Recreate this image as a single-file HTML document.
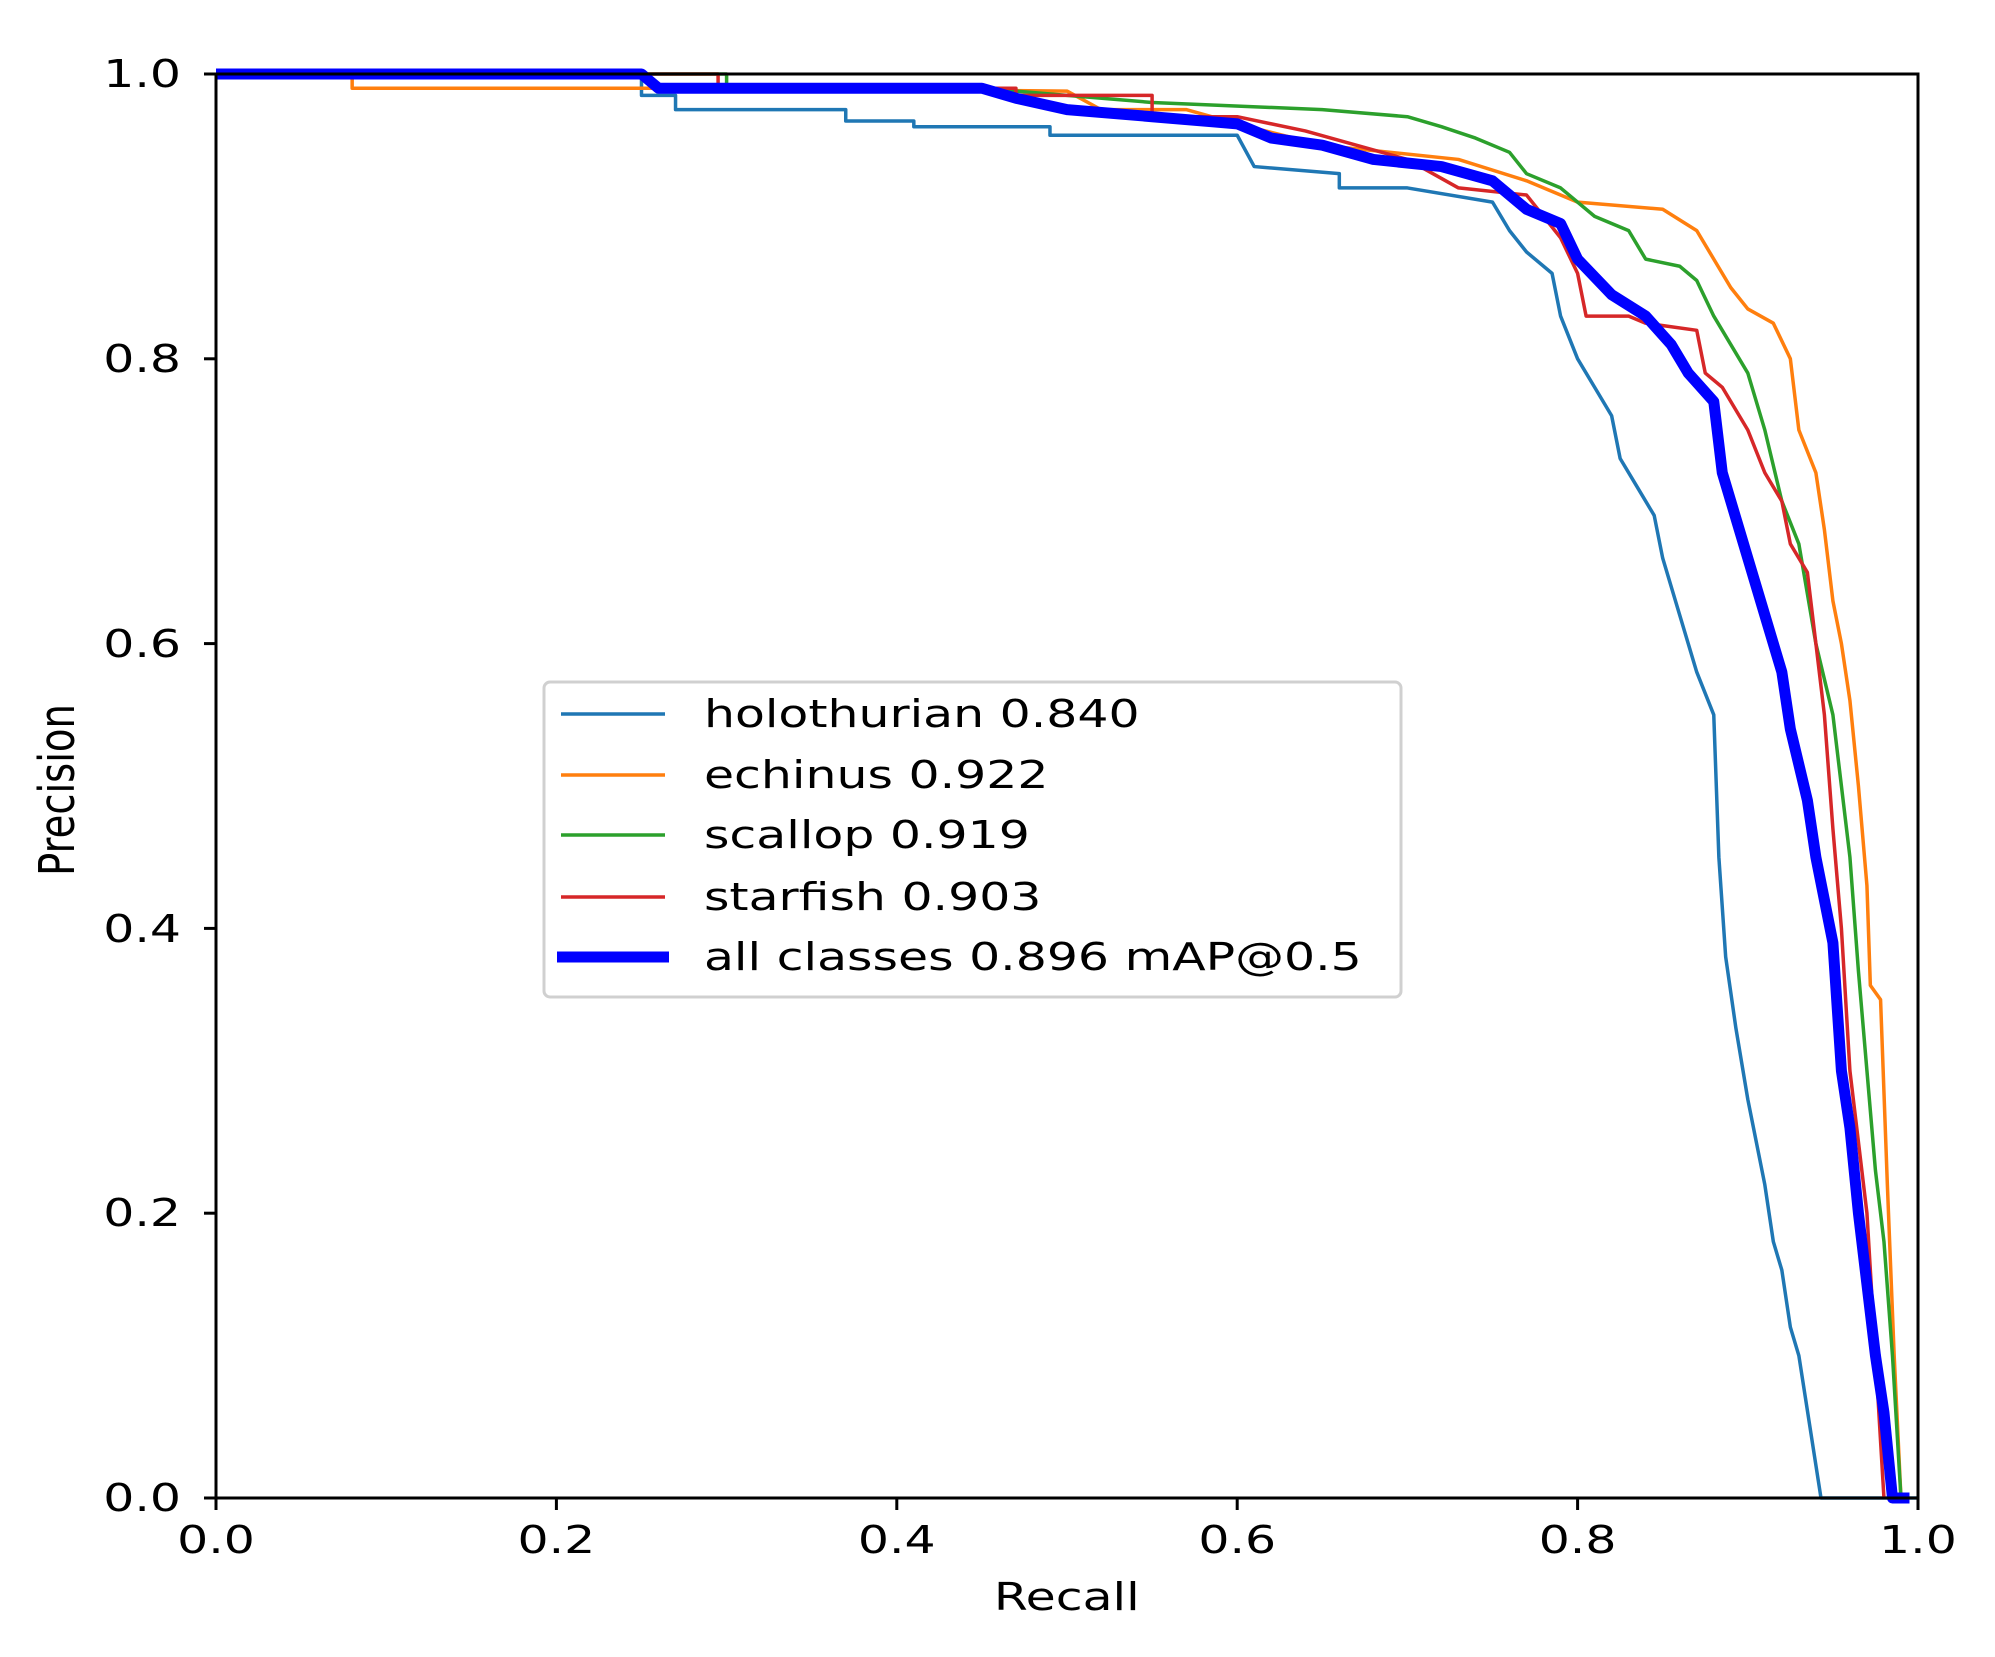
<!DOCTYPE html>
<html><head><meta charset="utf-8"><style>html,body{margin:0;padding:0;background:#fff;width:1995px;height:1657px;overflow:hidden}</style></head>
<body>
<svg width="1995" height="1657" viewBox="0 0 1995 1657" xmlns="http://www.w3.org/2000/svg">
<rect width="1995" height="1657" fill="#fff"/>
<g transform="matrix(1702 0 0 -1424 216 1498)" fill="none" stroke-linejoin="round">
<polyline vector-effect="non-scaling-stroke" stroke="#1f77b4" stroke-width="3.5" points="0,1 0.25,1 0.25,0.985 0.27,0.985 0.27,0.975 0.37,0.975 0.37,0.967 0.41,0.967 0.41,0.963 0.49,0.963 0.49,0.957 0.6,0.957 0.61,0.935 0.66,0.93 0.66,0.92 0.7,0.92 0.75,0.91 0.76,0.89 0.77,0.875 0.785,0.86 0.79,0.83 0.8,0.8 0.81,0.78 0.82,0.76 0.825,0.73 0.835,0.71 0.845,0.69 0.85,0.66 0.86,0.62 0.865,0.6 0.87,0.58 0.88,0.55 0.883,0.45 0.887,0.38 0.893,0.33 0.9,0.28 0.905,0.25 0.91,0.22 0.915,0.18 0.92,0.16 0.925,0.12 0.93,0.1 0.943,0 1,0"/>
<polyline vector-effect="non-scaling-stroke" stroke="#ff7f0e" stroke-width="3.5" points="0,1 0.08,1 0.08,0.99 0.3,0.99 0.5,0.988 0.52,0.975 0.57,0.975 0.6,0.965 0.65,0.95 0.73,0.94 0.77,0.925 0.8,0.91 0.85,0.905 0.87,0.89 0.88,0.87 0.89,0.85 0.9,0.835 0.915,0.825 0.925,0.8 0.93,0.75 0.94,0.72 0.945,0.68 0.95,0.63 0.955,0.6 0.96,0.56 0.965,0.5 0.97,0.43 0.972,0.36 0.978,0.35 0.982,0.22 0.986,0.1 0.99,0"/>
<polyline vector-effect="non-scaling-stroke" stroke="#2ca02c" stroke-width="3.5" points="0,1 0.3,1 0.3,0.99 0.45,0.99 0.5,0.985 0.55,0.98 0.65,0.975 0.7,0.97 0.72,0.963 0.74,0.955 0.76,0.945 0.77,0.93 0.79,0.92 0.81,0.9 0.83,0.89 0.84,0.87 0.86,0.865 0.87,0.855 0.88,0.83 0.89,0.81 0.9,0.79 0.91,0.75 0.92,0.7 0.93,0.67 0.94,0.6 0.95,0.55 0.955,0.5 0.96,0.45 0.965,0.37 0.97,0.3 0.975,0.23 0.98,0.18 0.985,0.1 0.99,0"/>
<polyline vector-effect="non-scaling-stroke" stroke="#d62728" stroke-width="3.5" points="0,1 0.295,1 0.295,0.99 0.47,0.99 0.47,0.985 0.55,0.985 0.55,0.97 0.6,0.97 0.64,0.96 0.7,0.94 0.73,0.92 0.77,0.915 0.78,0.9 0.79,0.885 0.8,0.86 0.805,0.83 0.83,0.83 0.84,0.825 0.87,0.82 0.875,0.79 0.885,0.78 0.9,0.75 0.91,0.72 0.92,0.7 0.925,0.67 0.935,0.65 0.94,0.6 0.945,0.55 0.95,0.47 0.955,0.4 0.96,0.3 0.965,0.25 0.97,0.2 0.975,0.1 0.98,0"/>
<polyline vector-effect="non-scaling-stroke" stroke="#0000ff" stroke-width="11" points="0,1 0.25,1 0.26,0.99 0.45,0.99 0.47,0.983 0.5,0.975 0.55,0.97 0.6,0.965 0.62,0.955 0.65,0.95 0.68,0.94 0.72,0.935 0.75,0.925 0.77,0.905 0.79,0.895 0.8,0.87 0.82,0.845 0.84,0.83 0.855,0.81 0.865,0.79 0.88,0.77 0.885,0.72 0.89,0.7 0.9,0.66 0.91,0.62 0.92,0.58 0.925,0.54 0.935,0.49 0.94,0.45 0.945,0.42 0.95,0.39 0.955,0.3 0.96,0.26 0.965,0.2 0.97,0.15 0.975,0.1 0.98,0.06 0.985,0 0.995,0"/>
</g>
<rect x="216" y="74" width="1702" height="1424" fill="none" stroke="#000" stroke-width="3"/>
<g stroke="#000" stroke-width="3">
<line x1="216" y1="1498" x2="216" y2="1510"/><line x1="556.4" y1="1498" x2="556.4" y2="1510"/><line x1="896.8" y1="1498" x2="896.8" y2="1510"/><line x1="1237.2" y1="1498" x2="1237.2" y2="1510"/><line x1="1577.6" y1="1498" x2="1577.6" y2="1510"/><line x1="1918" y1="1498" x2="1918" y2="1510"/>
<line x1="204" y1="1498" x2="216" y2="1498"/><line x1="204" y1="1213.2" x2="216" y2="1213.2"/><line x1="204" y1="928.4" x2="216" y2="928.4"/><line x1="204" y1="643.6" x2="216" y2="643.6"/><line x1="204" y1="358.8" x2="216" y2="358.8"/><line x1="204" y1="74" x2="216" y2="74"/>
</g>
<g font-family="DejaVu Sans, Liberation Sans, sans-serif" font-size="38.5" fill="#000" transform="scale(1.27,1)">
<g text-anchor="middle">
<text x="170.1" y="1553">0.0</text><text x="438.1" y="1553">0.2</text><text x="706.1" y="1553">0.4</text><text x="974.2" y="1553">0.6</text><text x="1242.2" y="1553">0.8</text><text x="1510.2" y="1553">1.0</text>
<text x="840" y="1610">Recall</text>
</g>
<g text-anchor="end">
<text x="142.5" y="1511">0.0</text><text x="142.5" y="1226">0.2</text><text x="142.5" y="942">0.4</text><text x="142.5" y="657">0.6</text><text x="142.5" y="372">0.8</text><text x="142.5" y="87">1.0</text>
</g>
</g>
<text font-family="DejaVu Sans, Liberation Sans, sans-serif" font-size="38.5" text-anchor="middle" transform="translate(74,790) rotate(-90) scale(1,1.27)">Precision</text>
<rect x="544" y="682" width="857" height="315" rx="6" fill="#fff" stroke="#d0d0d0" stroke-width="3"/>
<g stroke-width="3.5">
<line x1="561" y1="714" x2="665" y2="714" stroke="#1f77b4"/>
<line x1="561" y1="775" x2="665" y2="775" stroke="#ff7f0e"/>
<line x1="561" y1="835" x2="665" y2="835" stroke="#2ca02c"/>
<line x1="561" y1="897" x2="665" y2="897" stroke="#d62728"/>
<line x1="557" y1="957" x2="669" y2="957" stroke="#0000ff" stroke-width="11"/>
</g>
<g font-family="DejaVu Sans, Liberation Sans, sans-serif" font-size="38.5" fill="#000" transform="scale(1.27,1)">
<text x="554.3" y="727">holothurian 0.840</text>
<text x="554.3" y="788">echinus 0.922</text>
<text x="554.3" y="848">scallop 0.919</text>
<text x="554.3" y="910">starfish 0.903</text>
<text x="554.3" y="970">all classes 0.896 mAP@0.5</text>
</g>
</svg>
</body></html>
